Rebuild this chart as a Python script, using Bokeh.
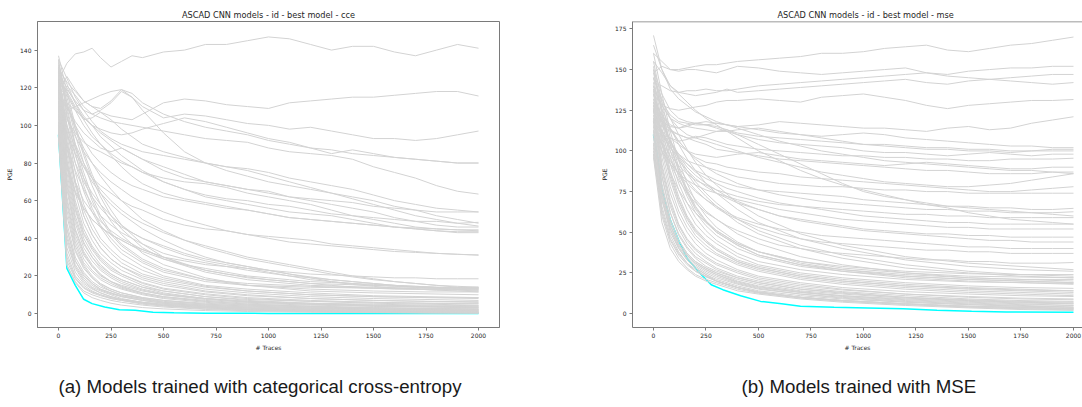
from bokeh.plotting import figure
from bokeh.layouts import row, column
from bokeh.models import Range1d, Span, FixedTicker, Label
from bokeh.embed import file_html
from bokeh.resources import INLINE

# ---------------- data ----------------
X_TICKS = [0, 250, 500, 750, 1000, 1250, 1500, 1750, 2000]
CCE_Y_TICKS = [0, 20, 40, 60, 80, 100, 120, 140]
MSE_Y_TICKS = [0, 25, 50, 75, 100, 125, 150, 175]

# x grid of the slowly varying (upper) curves
X_FINE = [0, 40, 80, 120, 160, 200, 250, 300, 350, 400, 500, 600, 700, 800, 900,
          1000, 1100, 1200, 1300, 1400, 1500, 1600, 1700, 1800, 1900, 2000]
# x grid of the fast converging (bundle) curves
X_COARSE = [0, 40, 80, 120, 160, 200, 250, 300, 400, 500, 700, 900, 1200, 1500, 1750, 2000]

CCE_UPPER = [
    [124, 133, 138, 139, 141, 136, 131, 134, 137, 136, 139, 140, 143, 143, 145, 147, 146, 143, 140, 142, 142, 139, 137, 140, 143, 141],
    [118, 126, 119, 113, 110, 107, 105, 104, 103, 106, 112, 114, 113, 111, 110, 109, 112, 113, 114, 115, 115, 116, 117, 118, 118, 115.6],
    [112, 121, 116, 110, 106, 108, 112, 118, 115, 110, 104, 106, 105, 103, 101, 100, 98, 99, 97, 95, 93, 93, 92, 93, 95, 97],
    [130, 123, 118, 113, 110, 109, 113, 119, 117, 112, 106, 102, 99, 97, 95, 92, 90, 88, 87, 85, 84, 83, 82, 81, 80, 80],
    [108, 112, 108, 104, 100, 98, 96, 95, 96, 98, 101, 104, 102, 99, 96, 93, 91, 88, 85, 87, 85, 83, 82, 81, 80, 80],
    [122, 119, 113, 108, 106, 104, 102, 101, 100, 99, 97, 95, 93, 92, 91, 88, 86, 85, 84, 82, 78, 75, 72, 68, 65, 63.5],
    [115, 110, 102, 96, 92, 88, 86, 88, 85, 82, 78, 74, 70, 68, 66, 64, 62, 61, 60, 59, 57, 56, 55, 54, 54, 54],
    [120, 116, 108, 100, 94, 90, 85, 81, 78, 75, 70, 66, 63, 61, 60, 58, 57, 55, 53, 52, 51, 50, 49, 49, 48, 48.5],
    [125, 118, 110, 104, 100, 96, 92, 88, 85, 82, 76, 72, 70, 68, 66, 65, 62, 60, 58, 56, 54, 51, 49, 47, 46, 46],
    [110, 103, 96, 91, 88, 86, 83, 80, 78, 75, 72, 70, 69, 67, 64, 62, 60, 58, 55, 52, 50, 48, 46, 45, 44.5, 44.5],
    [118, 110, 100, 92, 85, 80, 75, 71, 68, 66, 62, 60, 58, 56, 55, 53, 51, 50, 49, 48, 47, 46, 45, 44, 43.5, 43.5],
    [128, 120, 112, 105, 100, 94, 89, 84, 80, 76, 70, 66, 62, 60, 58, 56, 54, 53, 52, 50, 48, 46, 45, 44, 43, 43],
    [105, 95, 85, 78, 72, 68, 64, 60, 57, 55, 50, 47, 45, 44, 42, 41, 40, 39, 37, 36, 35, 34, 33, 32, 31.5, 31],
    [114, 104, 94, 86, 80, 75, 70, 66, 62, 59, 54, 50, 47, 44, 42, 40, 38, 37, 36, 35, 34, 33, 32.5, 32, 31.5, 31.2],
    [100, 80, 65, 56, 50, 46, 42, 39, 36, 34, 30, 28, 26, 25, 24, 23, 22, 21, 20.5, 20, 19.5, 19, 19, 18.5, 18.5, 18.5],
    [112, 88, 70, 60, 54, 49, 44, 40, 37, 34, 30, 26, 24, 22, 20, 19, 18, 17, 16.5, 16, 15.5, 15, 14.5, 14, 14, 14],
    [120, 100, 84, 72, 64, 58, 52, 47, 43, 40, 35, 31, 28, 26, 24, 22, 20, 18, 17, 16, 15, 14.5, 14, 13.5, 13.5, 13.5],
    [96, 78, 64, 56, 50, 46, 42, 39, 36, 33, 29, 26, 23, 21, 19.5, 18, 17, 16, 15, 14, 13.5, 13, 13, 12.5, 12.5, 12],
    [131, 122, 112, 103, 96, 90, 84, 78, 73, 69, 64, 61, 59, 57, 55, 53, 51, 50, 49, 48, 47, 46, 45.5, 45, 44.5, 44],
    [126, 117, 109, 103, 104, 107, 103, 98, 94, 90, 86, 83, 80, 78, 77, 75, 72, 70, 68, 66, 63, 60, 58, 56, 55, 54],
    [100, 108, 110, 112, 114, 116, 118, 119, 115, 108, 96, 86, 80, 76, 73, 70, 68, 66, 64, 62, 60, 57, 55, 52, 50, 48],
    [135, 125, 115, 108, 102, 97, 93, 90, 88, 86, 84, 82, 80, 78, 76, 73, 70, 67, 64, 61, 58, 55, 52, 50, 48, 46.5],
    [118, 96, 80, 70, 62, 56, 50, 46, 43, 40, 36, 32, 29, 27, 25, 23, 21, 19, 17, 15.5, 14.5, 13.5, 13, 12.5, 12, 11.5],
    [125, 105, 90, 80, 72, 66, 60, 55, 51, 48, 43, 39, 36, 33, 30, 28, 26, 24, 22, 20, 18.5, 17, 16, 15, 14.5, 14],
    [130, 112, 98, 88, 80, 73, 66, 60, 55, 50, 44, 39, 35, 32, 29, 27, 25, 23, 21, 19.5, 18, 17, 16, 15, 14, 13.5],
    [115, 100, 88, 78, 70, 64, 58, 53, 49, 45, 39, 34, 30, 27, 25, 23, 21, 19.5, 18, 17, 16, 15, 14.5, 14, 13.5, 13],
    [110, 90, 76, 66, 58, 52, 47, 43, 40, 37, 32, 29, 27, 25, 23, 21.5, 20, 19, 18, 17, 16, 15, 14, 13.5, 13, 12.5],
]

CCE_BUNDLE = [
    [98, 45, 28, 20, 16, 13, 11, 9, 7, 5.5, 4, 3, 2, 1.5, 1, 0.8],
    [120, 60, 38, 27, 22, 18, 15, 13, 10, 8, 6, 4.5, 3.5, 2.5, 2, 1.5],
    [132, 80, 55, 40, 32, 26, 21, 18, 14, 11, 8, 6.5, 5, 4, 3.5, 3],
    [110, 52, 33, 24, 19, 15, 12, 10, 8, 6, 4.5, 3.5, 2.5, 2, 1.8, 1.2],
    [125, 95, 70, 52, 42, 35, 29, 25, 19, 16, 12, 10, 8, 7, 6.5, 6],
    [105, 40, 25, 18, 14, 12, 10, 8, 6, 5, 3.5, 2.5, 1.8, 1.2, 1, 0.6],
    [128, 100, 80, 65, 54, 46, 38, 32, 25, 20, 15, 13, 11, 9.5, 9, 8.5],
    [115, 70, 45, 33, 26, 21, 17, 15, 12, 10, 8, 6.5, 5.5, 5, 4.5, 4.2],
    [130, 110, 90, 75, 62, 52, 43, 37, 29, 24, 18, 15, 13, 12, 11.5, 11.5],
    [100, 35, 22, 16, 13, 11, 9, 7.5, 6, 4.5, 3, 2, 1.5, 1, 0.7, 0.5],
    [122, 85, 60, 45, 36, 30, 25, 21, 16, 13, 10, 8, 6.5, 5.5, 5, 4.5],
    [135, 105, 85, 68, 56, 47, 40, 34, 27, 22, 17, 15, 14, 13.5, 13, 13],
    [112, 62, 40, 29, 23, 19, 16, 13.5, 10.5, 8.5, 6.5, 5, 4, 3.2, 2.8, 2.5],
    [118, 75, 50, 37, 30, 25, 21, 18, 14, 12, 9, 7.5, 6.5, 6, 5.5, 5.5],
    [95, 32, 20, 15, 12, 10, 8, 7, 5, 4, 2.5, 1.8, 1.2, 0.8, 0.5, 0.3],
    [127, 90, 68, 52, 42, 35, 29, 25, 20, 17, 13, 11, 9, 8, 7.5, 7],
    [108, 48, 30, 22, 17, 14, 12, 10, 8, 6.5, 5, 4, 3, 2.5, 2.2, 2],
    [133, 115, 98, 84, 72, 62, 52, 45, 35, 29, 22, 18, 15, 14, 13.5, 14],
    [124, 80, 56, 42, 34, 28, 23, 20, 15, 12, 9, 7, 5.5, 4.5, 4, 3.5],
    [116, 66, 42, 31, 25, 20, 17, 14, 11, 9, 7, 5.5, 4.5, 3.8, 3.5, 3.2],
    [102, 42, 26, 19, 15, 12.5, 10.5, 9, 7, 5.5, 4, 3, 2.2, 1.8, 1.5, 1.2],
    [129, 98, 75, 58, 48, 40, 34, 29, 23, 19, 14.5, 12, 10, 9, 8.5, 8],
    [121, 78, 52, 38, 30, 24, 20, 17, 13, 10.5, 8, 6, 5, 4.5, 4, 4],
    [131, 108, 88, 72, 60, 50, 42, 36, 28, 23, 18, 16, 14.5, 13.5, 13, 12.5],
    [113, 58, 36, 26, 20, 16, 13, 11, 8.5, 7, 5, 4, 3, 2.5, 2, 1.8],
    [126, 88, 64, 48, 39, 32, 27, 23, 18, 15, 11.5, 9.5, 8, 7, 6.5, 6.3],
    [106, 45, 28, 21, 16, 13, 11, 9.5, 7.5, 6, 4.5, 3.5, 2.8, 2.2, 2, 1.7],
    [134, 112, 95, 80, 68, 58, 49, 42, 32, 26, 19, 15, 12, 11, 10.5, 10],
    [119, 72, 48, 35, 28, 23, 19, 16, 12.5, 10, 7.5, 6, 5, 4.2, 3.8, 3.6],
    [97, 38, 24, 17, 13.5, 11, 9, 7.5, 5.5, 4.5, 3.2, 2.3, 1.6, 1.1, 0.9, 0.7],
    [137, 118, 100, 86, 74, 64, 55, 47, 37, 30, 23, 19, 16, 15, 14, 13.5],
    [123, 82, 58, 43, 35, 29, 24, 21, 16.5, 13.5, 10.5, 8.5, 7, 6, 5.5, 5.2],
    [109, 55, 34, 25, 19, 15.5, 13, 11, 8.5, 7, 5.5, 4.5, 3.5, 3, 2.7, 2.4],
    [128, 92, 70, 55, 45, 38, 32, 27, 21, 18, 14, 12, 10, 9, 8.5, 8.5],
    [117, 68, 44, 32, 25, 20.5, 17, 14.5, 11, 9, 6.5, 5, 3.8, 3, 2.6, 2.2],
    [96, 26, 17, 12, 10, 8.5, 7, 6, 4.5, 3.5, 2.2, 1.5, 1, 0.6, 0.4, 0.3],
    [100, 28, 18.5, 13.5, 11, 9.5, 8, 7, 5.5, 4.2, 3, 2.2, 1.5, 1, 0.8, 0.6],
    [93, 25.5, 16.5, 11, 8.5, 7, 5.5, 4.5, 3.2, 2.5, 1.6, 1.1, 0.7, 0.5, 0.3, 0.2],
    [99, 30, 19, 14, 11.5, 10, 8.5, 7.5, 6, 5, 3.8, 2.8, 2, 1.4, 1.1, 0.9],
]

CCE_BEST_X = [0, 40, 80, 120, 160, 220, 290, 365, 450, 550, 700, 1000, 1500, 2000]
CCE_BEST_Y = [95, 24, 15, 7.6, 5.3, 3.5, 2.1, 1.8, 0.7, 0.4, 0.2, 0.1, 0.05, 0.05]

MSE_UPPER = [
    [148, 152, 150, 150, 151, 152, 153, 153, 154, 155, 156, 157, 158, 160, 160, 161, 163, 164, 165, 162, 161, 163, 165, 166, 168, 170],
    [160, 155, 150, 149, 150, 150, 149, 148, 150, 152, 151, 149, 148, 147, 148, 149, 150, 151, 148, 147, 149, 150, 151, 151, 152, 152],
    [142, 140, 137, 136, 137, 137, 138, 137, 137, 138, 140, 141, 142, 143, 144, 145, 146, 147, 148, 146, 145, 144, 145, 146, 147, 147],
    [155, 148, 140, 136, 135, 134, 135, 136, 138, 136, 137, 138, 139, 140, 141, 142, 143, 144, 142, 141, 143, 144, 143, 142, 141, 142],
    [135, 128, 126, 125, 126, 127, 128, 130, 131, 131, 132, 131, 130, 133, 134, 135, 133, 131, 128, 126, 128, 129, 130, 131, 131, 131.6],
    [125, 118, 115, 114, 116, 117, 118, 117, 116, 115, 116, 118, 117, 116, 115, 114, 114, 113, 112, 114, 115, 113, 114, 117, 119, 121],
    [140, 128, 120, 117, 115, 114, 113, 112, 112, 113, 114, 112, 110, 109, 110, 111, 110, 108, 107, 106, 105, 104, 103, 103, 102, 102],
    [120, 115, 112, 110, 108, 108, 110, 112, 113, 111, 109, 108, 107, 106, 105, 104, 104, 103, 102, 102, 101, 101, 100, 100, 100, 100],
    [130, 122, 116, 114, 115, 117, 116, 114, 112, 110, 107, 105, 104, 103, 102, 100, 99, 99, 98, 97, 98, 99, 98, 97, 98, 98],
    [112, 110, 108, 106, 107, 109, 108, 106, 104, 103, 101, 100, 99, 98, 97, 97, 96, 96, 95, 95, 94, 94, 95, 95, 95, 95.5],
    [118, 112, 108, 104, 100, 98, 97, 96, 97, 98, 99, 97, 95, 94, 93, 92, 91, 92, 93, 92, 91, 90, 89, 89, 90, 90],
    [125, 118, 113, 110, 108, 106, 104, 101, 100, 99, 97, 95, 94, 93, 92, 91, 90, 89, 88, 88, 87, 86, 86, 86, 87, 87],
    [128, 120, 113, 106, 100, 96, 93, 92, 90, 89, 87, 86, 84, 83, 82, 81, 80, 79, 78, 77, 76, 75, 75, 76, 77, 78],
    [120, 112, 104, 98, 94, 92, 90, 88, 86, 84, 82, 80, 79, 78, 78, 77, 76, 76, 75, 75, 74, 74, 74, 74, 74, 74],
    [118, 110, 102, 96, 92, 88, 85, 82, 80, 78, 76, 75, 74, 73, 72, 70, 69, 68, 67, 66, 66, 65, 65, 64, 64, 64.7],
    [132, 122, 114, 106, 100, 95, 90, 86, 83, 80, 76, 73, 71, 69, 68, 67, 66, 65, 64, 64, 63, 63, 62, 62, 62, 62.6],
    [115, 105, 97, 91, 86, 82, 79, 76, 74, 72, 69, 67, 66, 65, 64, 63, 62, 61, 61, 60, 60, 59, 59, 59, 59, 59],
    [128, 116, 106, 98, 92, 87, 83, 80, 77, 75, 71, 68, 66, 64, 62, 60, 59, 58, 57, 56, 56, 55, 55, 55, 55, 55],
    [110, 100, 92, 86, 82, 79, 76, 74, 72, 70, 67, 64, 62, 60, 58, 57, 56, 55, 54, 53, 53, 52, 52, 52, 52, 52],
    [124, 112, 102, 94, 88, 83, 78, 74, 71, 68, 64, 60, 58, 56, 54, 52, 51, 50, 49, 49, 48, 48, 47, 47, 47, 47],
    [135, 118, 106, 97, 90, 85, 80, 76, 72, 69, 64, 60, 57, 55, 53, 51, 50, 49, 48, 47, 46, 45, 45, 44, 44, 44],
    [116, 104, 94, 86, 80, 75, 70, 66, 62, 59, 55, 52, 50, 48, 47, 46, 45, 44, 43, 42, 41, 41, 40, 40, 40, 40],
    [126, 112, 100, 90, 82, 76, 70, 65, 61, 58, 53, 49, 46, 44, 43, 42, 41, 40, 39, 39, 38, 38, 37, 37, 37, 37],
    [119, 104, 92, 82, 74, 68, 62, 58, 54, 51, 46, 42, 40, 38, 37, 36, 35, 34, 33, 33, 32, 32, 31, 31, 31, 31.4],
    [138, 128, 120, 114, 110, 108, 106, 104, 102, 100, 96, 93, 90, 87, 85, 83, 81, 80, 79, 78, 78, 79, 80, 82, 84, 86],
    [145, 130, 122, 118, 117, 116, 116, 117, 116, 115, 113, 111, 110, 108, 106, 104, 103, 102, 101, 101, 100, 100, 99, 100, 101, 101],
    [150, 135, 125, 120, 118, 117, 116, 115, 113, 110, 104, 98, 92, 86, 80, 75, 72, 70, 68, 66, 65, 64, 63, 62, 61, 60],
    [165, 150, 140, 135, 130, 125, 120, 116, 112, 108, 100, 94, 88, 83, 79, 76, 73, 70, 67, 65, 62, 60, 58, 57, 56, 55],
    [171, 150, 138, 132, 128, 124, 121, 118, 116, 114, 110, 106, 103, 100, 98, 96, 94, 93, 92, 91, 90, 89, 88, 88, 87, 86],
]

MSE_BUNDLE = [
    [100, 62, 45, 36, 30, 26, 23, 20, 16, 13, 10, 8, 6, 4.5, 3.5, 3],
    [125, 85, 62, 48, 40, 34, 29, 26, 22, 19, 15, 13, 10, 8, 7, 6],
    [140, 110, 88, 72, 60, 52, 45, 40, 33, 29, 24, 21, 18, 16, 15, 14],
    [110, 72, 52, 41, 34, 29, 25, 22, 18, 15, 12, 10, 7.5, 6, 5, 4],
    [150, 122, 100, 84, 72, 62, 54, 48, 40, 35, 29, 26, 23, 21, 20, 19],
    [118, 80, 58, 45, 37, 32, 28, 25, 21, 18, 14, 12, 9.5, 8, 7, 6.5],
    [132, 100, 78, 63, 53, 46, 40, 36, 30, 26, 21, 18, 15, 13, 12, 11],
    [105, 70, 50, 40, 33, 28, 24, 21, 17, 14, 11, 9, 7, 5.5, 4.5, 3.8],
    [145, 118, 96, 80, 68, 59, 51, 45, 37, 32, 27, 24, 21, 19.5, 19, 18.5],
    [128, 92, 70, 55, 46, 40, 35, 31, 26, 22, 18, 15, 12, 10, 9, 8.5],
    [96, 56, 40, 32, 27, 23, 20, 18, 14, 12, 9, 7, 5, 3.5, 2.5, 2],
    [138, 108, 86, 70, 59, 51, 44, 39, 32, 28, 23, 20, 17, 15, 14, 13],
    [122, 88, 66, 52, 43, 37, 32, 28, 23, 20, 16, 13.5, 11, 9, 8, 7.5],
    [155, 130, 108, 90, 76, 66, 57, 50, 42, 36, 30, 27, 24, 22, 21, 21],
    [112, 76, 55, 43, 36, 31, 27, 24, 19, 16, 13, 11, 8.5, 7, 6, 5],
    [135, 104, 82, 67, 56, 48, 42, 37, 31, 27, 22, 19, 16, 14, 13, 12],
    [102, 66, 48, 38, 31, 27, 23, 20, 16, 13.5, 10, 8, 6, 4.5, 4, 3.2],
    [148, 124, 104, 88, 75, 65, 57, 51, 43, 38, 32, 29, 26, 24.5, 24, 24],
    [126, 90, 68, 54, 45, 39, 34, 30, 25, 21, 17, 14.5, 12, 10.5, 9.5, 9],
    [115, 78, 57, 45, 37, 32, 28, 25, 20, 17, 13.5, 11, 9, 7.5, 6.5, 6],
    [142, 114, 92, 76, 64, 55, 48, 43, 35, 30, 25, 22, 19, 17, 16, 15.5],
    [108, 74, 54, 42, 35, 30, 26, 23, 18.5, 15.5, 12, 9.5, 7, 5.5, 4.5, 4],
    [130, 96, 74, 60, 50, 43, 37, 33, 27, 23, 19, 16, 13.5, 12, 11, 10.5],
    [160, 135, 112, 94, 80, 69, 60, 53, 44, 38, 32, 28, 25, 23, 22.5, 22],
    [98, 60, 43, 34, 28, 24, 21, 19, 15, 12.5, 9.5, 7.5, 5.5, 4, 3, 2.5],
    [120, 84, 62, 49, 41, 35, 31, 27, 22, 19, 15, 12.5, 10, 8.5, 7.5, 7],
    [137, 106, 84, 69, 58, 50, 44, 39, 32, 28, 23, 20, 17, 15.5, 14.5, 14],
    [113, 74, 54, 43, 36, 31, 27, 24, 19.5, 16.5, 13, 10.5, 8, 6.5, 5.5, 5],
    [152, 126, 104, 87, 74, 64, 56, 50, 42, 36, 30, 26, 22, 20, 19, 18],
    [104, 64, 46, 37, 31, 26, 22.5, 20, 16, 13, 10, 8, 6, 4.5, 3.8, 3],
    [130, 118, 106, 96, 88, 81, 74, 68, 58, 51, 42, 36, 30, 26, 24, 23],
    [140, 126, 114, 104, 95, 88, 80, 74, 64, 56, 46, 40, 33, 29, 27, 26],
    [118, 100, 86, 76, 68, 62, 56, 51, 43, 38, 31, 27, 23, 21, 20, 19],
    [126, 110, 96, 85, 77, 70, 63, 58, 49, 43, 35, 30, 25, 22, 21, 20],
    [145, 132, 120, 110, 101, 93, 85, 79, 68, 60, 49, 42, 35, 31, 29, 27],
    [135, 120, 106, 95, 86, 79, 72, 66, 56, 49, 40, 34, 28, 25, 23, 22],
    [98, 70, 52, 40, 33, 28, 24, 20, 16, 13, 10, 8, 6, 4, 3, 2.2],
]

MSE_BEST_X = [0, 20, 40, 80, 120, 160, 220, 275, 330, 415, 510, 610, 700, 860, 1020, 1190, 1350, 1515, 1680, 2000]
MSE_BEST_Y = [110, 96, 76, 57.5, 45, 34, 25, 17.7, 14.7, 11, 7.5, 6.1, 4.5, 3.9, 3.5, 2.9, 2.0, 1.4, 1.0, 0.8]

TITLE_CCE = "ASCAD CNN models - id - best model - cce"
TITLE_MSE = "ASCAD CNN models - id - best model - mse"
CAPTION_CCE = "(a) Models trained with categorical cross-entropy"
CAPTION_MSE = "(b) Models trained with MSE"

# ---------------- styling ----------------
GRAY = "#d3d3d3"
BEST = "#00ffff"
SPINE = "#7a7a7a"
TXT = "#262626"
FONT = "DejaVu Sans"
PLOT_H = 367
CAP_H = 40
CAP_CENTER_Y = 386


def panel(width, x_end, y_range, yticks, upper, bundle, bx, by, title,
          border_left, border_right, title_align, title_offset, show_right_outline):
    p = figure(width=width, height=PLOT_H, output_backend="svg", toolbar_location=None,
               x_range=Range1d(-100, x_end), y_range=Range1d(*y_range),
               min_border_left=border_left, min_border_right=border_right,
               min_border_top=21, min_border_bottom=40, title=title)
    p.title.align = title_align
    p.title.offset = title_offset
    p.title.text_font = FONT
    p.title.text_font_size = "8.2px"
    p.title.text_font_style = "normal"
    p.title.text_color = TXT
    p.title.standoff = 3
    p.grid.visible = False
    p.background_fill_color = "white"
    p.border_fill_color = "white"
    if show_right_outline:
        p.outline_line_color = SPINE
    else:
        p.outline_line_color = None
        p.add_layout(Span(location=y_range[1], dimension="width",
                          line_color=SPINE, line_width=1.5))
    p.xaxis.ticker = FixedTicker(ticks=X_TICKS)
    p.yaxis.ticker = FixedTicker(ticks=yticks)
    for ax in (p.xaxis[0], p.yaxis[0]):
        ax.axis_line_color = SPINE
        ax.major_tick_line_color = SPINE
        ax.major_tick_out = 3
        ax.major_tick_in = 0
        ax.minor_tick_line_color = None
        ax.major_label_text_font = FONT
        ax.major_label_text_font_size = "6px"
        ax.major_label_text_color = TXT
        ax.axis_label_text_font = FONT
        ax.axis_label_text_font_size = "6px"
        ax.axis_label_text_font_style = "normal"
        ax.axis_label_text_color = TXT
    p.xaxis.major_label_standoff = 2
    p.yaxis.major_label_standoff = 3
    p.xaxis.axis_label = "# Traces"
    p.yaxis.axis_label = "PGE"
    p.xaxis.axis_label_standoff = 3
    p.yaxis.axis_label_standoff = 4

    p.line(bx, by, line_color=BEST, line_width=1.5)
    xs = [X_COARSE for _ in bundle] + [X_FINE for _ in upper]
    ys = list(bundle) + list(upper)
    p.multi_line(xs, ys, line_color=GRAY, line_width=1)
    return p


def caption_panel(width, caption, left):
    c = figure(width=width, height=CAP_H, output_backend="svg", toolbar_location=None,
               x_range=Range1d(0, 1), y_range=Range1d(0, 1),
               x_axis_type=None, y_axis_type=None, min_border=0)
    c.outline_line_color = None
    c.grid.visible = False
    c.add_layout(Label(x=left, y=CAP_H - (CAP_CENTER_Y - PLOT_H), x_units="screen",
                       y_units="screen", text=caption, text_align="left",
                       text_baseline="middle", text_font="Liberation Sans",
                       text_font_size="18.7px", text_color="#1a1a1a"))
    return c


p1 = panel(540, 2100, (-7.39, 155.2), CCE_Y_TICKS, CCE_UPPER, CCE_BUNDLE,
           CCE_BEST_X, CCE_BEST_Y, TITLE_CCE, 37, 41, "center", 0, True)
p2 = panel(542, 2042.9, (-8.55, 179.55), MSE_Y_TICKS, MSE_UPPER, MSE_BUNDLE,
           MSE_BEST_X, MSE_BEST_Y, TITLE_MSE, 92, 0, "left", 145, False)
c1 = caption_panel(540, CAPTION_CCE, 58)
c2 = caption_panel(542, CAPTION_MSE, 741 - 540)

layout = column(row(p1, p2, spacing=0), row(c1, c2, spacing=0), spacing=0)
open("out.html", "w").write(file_html(layout, INLINE))
